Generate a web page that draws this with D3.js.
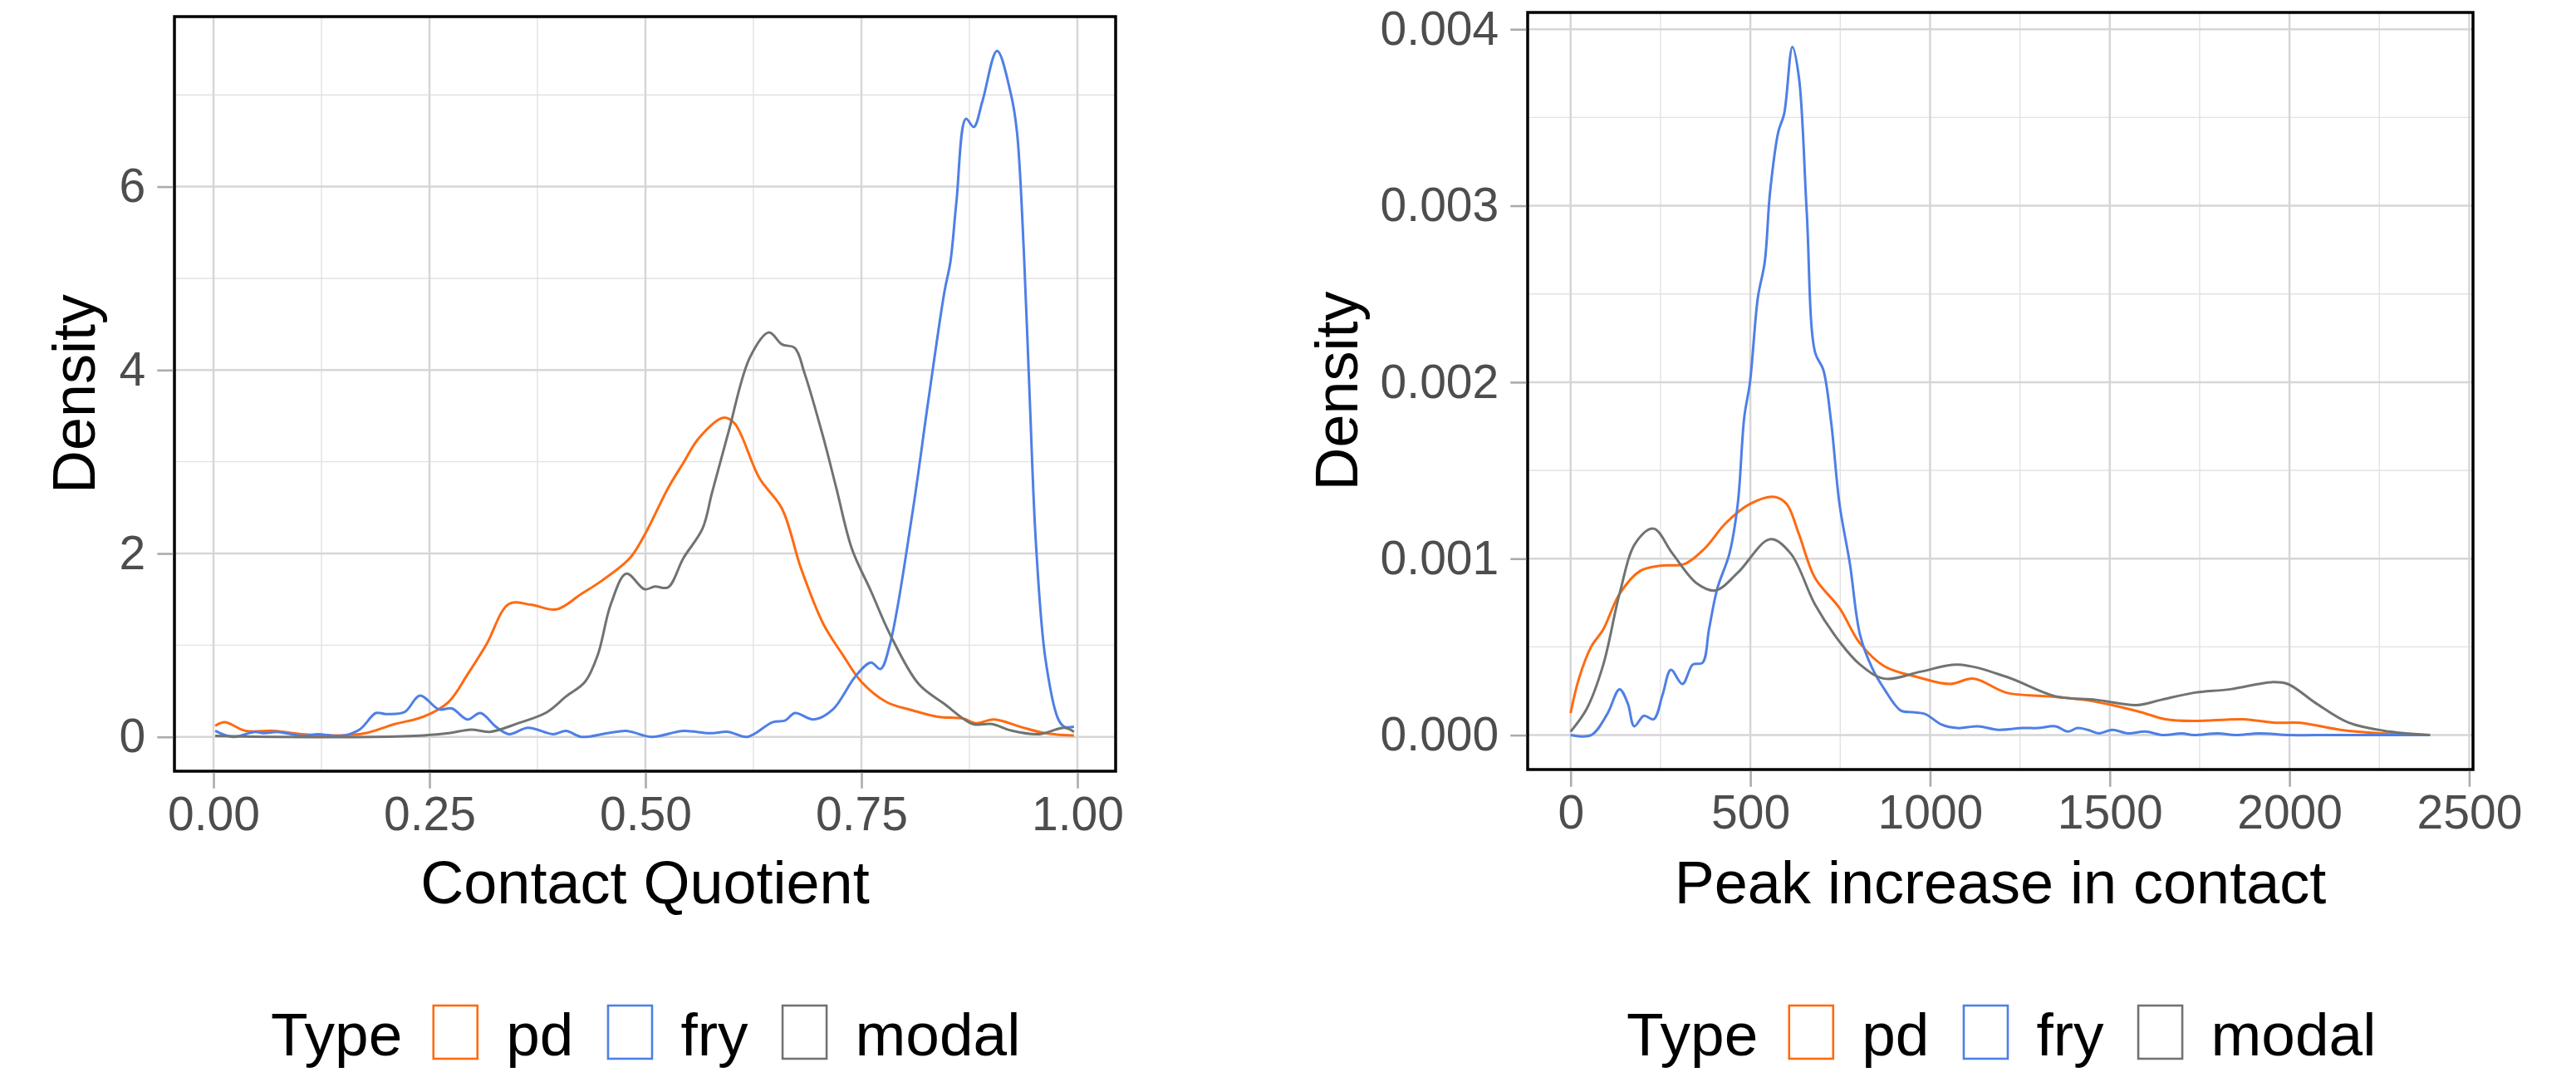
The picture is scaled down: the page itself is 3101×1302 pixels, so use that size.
<!DOCTYPE html>
<html><head><meta charset="utf-8">
<script src="https://cdn.jsdelivr.net/npm/d3@7"></script>
<style>body{margin:0;background:#fff}svg{display:block}</style>
</head><body>
<script>
// ---- DATA ----
const seriesNames = ["pd", "fry", "modal"];
const legendTitle = "Type";

// Panel 1: Contact Quotient densities [x, density]
const cqPd = [[0.002,0.12],[0.013,0.16],[0.037,0.066],[0.07,0.066],[0.103,0.03],[0.147,0.016],[0.176,0.04],[0.21,0.14],[0.243,0.22],[0.272,0.38],[0.294,0.68],[0.316,1.01],[0.342,1.45],[0.368,1.44],[0.397,1.39],[0.426,1.56],[0.449,1.70],[0.482,1.95],[0.5,2.22],[0.526,2.71],[0.544,2.99],[0.562,3.26],[0.59,3.48],[0.603,3.42],[0.632,2.82],[0.658,2.49],[0.68,1.84],[0.706,1.23],[0.728,0.90],[0.75,0.60],[0.779,0.38],[0.809,0.29],[0.838,0.22],[0.868,0.20],[0.882,0.15],[0.904,0.19],[0.934,0.11],[0.963,0.04],[0.996,0.016]];
const cqFry = [[0.002,0.066],[0.022,0.0],[0.048,0.055],[0.059,0.04],[0.074,0.055],[0.103,0.01],[0.121,0.03],[0.147,0.01],[0.169,0.08],[0.188,0.26],[0.199,0.25],[0.221,0.27],[0.239,0.45],[0.261,0.30],[0.276,0.31],[0.294,0.19],[0.309,0.26],[0.327,0.11],[0.342,0.03],[0.364,0.10],[0.393,0.03],[0.408,0.066],[0.426,0.0],[0.456,0.04],[0.478,0.066],[0.507,0.0],[0.544,0.066],[0.574,0.04],[0.596,0.055],[0.618,0.0],[0.647,0.16],[0.662,0.18],[0.673,0.26],[0.695,0.19],[0.717,0.30],[0.743,0.66],[0.761,0.81],[0.772,0.74],[0.783,1.01],[0.809,2.44],[0.827,3.64],[0.846,4.85],[0.853,5.18],[0.86,5.84],[0.871,6.74],[0.88,6.65],[0.89,6.93],[0.907,7.48],[0.923,7.01],[0.93,6.60],[0.938,5.29],[0.945,3.64],[0.952,2.11],[0.963,0.85],[0.978,0.19],[0.985,0.11],[0.996,0.11]];
const cqModal = [[0.002,0.01],[0.074,0.0],[0.184,0.0],[0.243,0.016],[0.272,0.04],[0.298,0.08],[0.32,0.055],[0.353,0.15],[0.386,0.27],[0.408,0.44],[0.43,0.60],[0.445,0.90],[0.46,1.45],[0.478,1.78],[0.499,1.61],[0.511,1.64],[0.526,1.63],[0.544,1.95],[0.566,2.27],[0.577,2.66],[0.596,3.32],[0.621,4.14],[0.643,4.41],[0.658,4.28],[0.673,4.24],[0.684,3.97],[0.706,3.26],[0.721,2.71],[0.739,2.05],[0.761,1.59],[0.783,1.12],[0.816,0.58],[0.846,0.36],[0.879,0.14],[0.901,0.14],[0.923,0.07],[0.956,0.03],[0.985,0.10],[0.996,0.055]];

// Panel 2: Peak increase in contact densities [x, density]
const piFry = [[0,0.0],[57,0.0],[102,0.00012],[136,0.00026],[159,0.00018],[177,0.00005],[204,0.00011],[231,0.00009],[256,0.00023],[279,0.00037],[311,0.00029],[340,0.00040],[367,0.00041],[385,0.00060],[408,0.00083],[442,0.00103],[465,0.00131],[483,0.00180],[499,0.00200],[521,0.00248],[540,0.00268],[555,0.00308],[578,0.00342],[594,0.00352],[617,0.00390],[635,0.00373],[657,0.00296],[680,0.00217],[703,0.00207],[725,0.00177],[748,0.00131],[777,0.00097],[805,0.00057],[839,0.00038],[873,0.00026],[918,0.00014],[952,0.00013],[986,0.00012],[1032,0.00006],[1077,0.00004],[1133,0.00005],[1190,0.00003],[1258,0.00004],[1300,0.00004],[1349,0.00005],[1383,0.00002],[1410,0.00004],[1439,0.00003],[1470,0.00001],[1507,0.00003],[1550,0.00001],[1598,0.00002],[1650,0.0],[1700,0.00001],[1734,0.0],[1800,0.00001],[1850,0.0],[1915,0.00001],[2000,0],[2074,0],[2391,0]];
const piPd = [[0,0.000125],[23,0.00032],[57,0.00050],[91,0.00060],[136,0.00080],[193,0.00093],[249,0.00096],[317,0.00097],[374,0.00106],[431,0.00120],[499,0.00131],[567,0.00135],[601,0.00131],[635,0.00114],[680,0.00089],[748,0.00072],[805,0.00052],[873,0.00039],[963,0.00033],[1054,0.00029],[1122,0.00032],[1213,0.00024],[1326,0.00022],[1428,0.00020],[1507,0.00017],[1587,0.00013],[1655,0.00009],[1734,0.00008],[1870,0.00009],[1961,0.00007],[2029,0.00007],[2142,0.00003],[2255,0.00001],[2391,0]];
const piModal = [[0,0.00002],[45,0.00015],[91,0.00040],[136,0.00080],[181,0.00109],[231,0.00117],[283,0.00103],[351,0.00086],[403,0.00082],[465,0.00092],[555,0.00111],[612,0.00103],[680,0.00074],[748,0.00053],[805,0.00040],[873,0.00032],[975,0.00036],[1077,0.00040],[1213,0.00033],[1349,0.00022],[1462,0.00020],[1575,0.00017],[1643,0.00020],[1734,0.00024],[1836,0.00026],[1950,0.00030],[1995,0.00029],[2074,0.00018],[2165,0.00007],[2278,0.00002],[2391,0]];

const cqXTicks = [0, 0.25, 0.5, 0.75, 1];
const cqXLabels = ["0.00", "0.25", "0.50", "0.75", "1.00"];
const cqYTicks = [0, 2, 4, 6];
const cqYLabels = ["0", "2", "4", "6"];
const piXTicks = [0, 500, 1000, 1500, 2000, 2500];
const piXLabels = ["0", "500", "1000", "1500", "2000", "2500"];
const piYTicks = [0, 0.001, 0.002, 0.003, 0.004];
const piYLabels = ["0.000", "0.001", "0.002", "0.003", "0.004"];

const xTitles = ["Contact Quotient", "Peak increase in contact"];
const yTitle = "Density";

// ---- STYLE ----
const colors = {pd: "#ff6a10", fry: "#4f7fe6", modal: "#6f7471"};
const FONT = "'Liberation Sans', Arial, Helvetica, sans-serif";

const W = 3101, H = 1302;
const svg = d3.select("body").append("svg").attr("width", W).attr("height", H)
  .style("font-family", FONT);

function expand(lo, hi) { const d = (hi - lo) * 0.05; return [lo - d, hi + d]; }

function panel(cfg) {
  const {left, right, top, bottom, xDomain, yDomain, xTicks, xLabels, xMinor, yTicks, yLabels, yMinor, series, xTitle, titleX, legendX} = cfg;
  const x = d3.scaleLinear().domain(xDomain).range([left, right]);
  const y = d3.scaleLinear().domain(yDomain).range([bottom, top]);
  const g = svg.append("g");

  // minor grid
  g.selectAll(".xm").data(xMinor).join("line")
    .attr("x1", d => x(d)).attr("x2", d => x(d)).attr("y1", top).attr("y2", bottom)
    .attr("stroke", "#e2e2e2").attr("stroke-width", 1.4);
  g.selectAll(".ym").data(yMinor).join("line")
    .attr("y1", d => y(d)).attr("y2", d => y(d)).attr("x1", left).attr("x2", right)
    .attr("stroke", "#e2e2e2").attr("stroke-width", 1.4);
  // major grid
  g.selectAll(".xg").data(xTicks).join("line")
    .attr("x1", d => x(d)).attr("x2", d => x(d)).attr("y1", top).attr("y2", bottom)
    .attr("stroke", "#d6d6d6").attr("stroke-width", 2.5);
  g.selectAll(".yg").data(yTicks).join("line")
    .attr("y1", d => y(d)).attr("y2", d => y(d)).attr("x1", left).attr("x2", right)
    .attr("stroke", "#d6d6d6").attr("stroke-width", 2.5);

  // curves
  const line = d3.line().x(d => x(d[0])).y(d => y(d[1])).curve(d3.curveCatmullRom.alpha(0.5));
  series.forEach(s => {
    g.append("path").datum(s.data).attr("d", line)
      .attr("fill", "none").attr("stroke", colors[s.name]).attr("stroke-width", 3)
      .attr("stroke-linejoin", "round");
  });

  // border
  g.append("rect").attr("x", left).attr("y", top).attr("width", right - left).attr("height", bottom - top)
    .attr("fill", "none").attr("stroke", "#000").attr("stroke-width", 3.5);

  // axes (ticks + labels)
  const xAxis = d3.axisBottom(x).tickValues(xTicks).tickFormat((d, i) => xLabels[i])
    .tickSizeInner(19).tickSizeOuter(0).tickPadding(10);
  const ax = g.append("g").attr("transform", `translate(0,${bottom + 1.75})`).call(xAxis);
  const yAxis = d3.axisLeft(y).tickValues(yTicks).tickFormat((d, i) => yLabels[i])
    .tickSizeInner(19).tickSizeOuter(0).tickPadding(14);
  const ay = g.append("g").attr("transform", `translate(${left - 1.75},0)`).call(yAxis);
  [ax, ay].forEach(a => {
    a.select(".domain").remove();
    a.selectAll(".tick line").attr("stroke", "#ababab").attr("stroke-width", 2.6);
    a.selectAll(".tick text").attr("fill", "#4d4d4d").attr("font-size", 57).attr("font-family", FONT);
  });

  // titles
  g.append("text").attr("x", (left + right) / 2).attr("y", 1087).attr("text-anchor", "middle")
    .attr("font-size", 72).attr("fill", "#000").text(xTitle);
  g.append("text").attr("transform", `translate(${titleX},${(top + bottom) / 2}) rotate(-90)`)
    .attr("text-anchor", "middle").attr("font-size", 72).attr("fill", "#000").text(yTitle);

  // legend
  const lg = g.append("g");
  const base = 1270;
  let cx = legendX;
  const t = lg.append("text").attr("x", cx).attr("y", base).attr("font-size", 73).attr("fill", "#000").text(legendTitle);
  cx += t.node().getComputedTextLength() + 36;
  seriesNames.forEach(n => {
    lg.append("rect").attr("x", cx + 1.5).attr("y", 1210).attr("width", 53).attr("height", 64)
      .attr("fill", "#fff").attr("stroke", colors[n]).attr("stroke-width", 2.6);
    cx += 56 + 33;
    const tt = lg.append("text").attr("x", cx).attr("y", base).attr("font-size", 73).attr("fill", "#000").text(n);
    cx += tt.node().getComputedTextLength() + 40;
  });
}

panel({
  left: 210, right: 1343, top: 20, bottom: 928,
  xDomain: [(210 - 257) / 1040, (1343 - 257) / 1040],
  yDomain: expand(0, 7.48),
  xTicks: cqXTicks, xLabels: cqXLabels, xMinor: [0.125, 0.375, 0.625, 0.875],
  yTicks: cqYTicks, yLabels: cqYLabels, yMinor: [1, 3, 5, 7],
  series: [{name: "pd", data: cqPd}, {name: "fry", data: cqFry}, {name: "modal", data: cqModal}],
  xTitle: xTitles[0], titleX: 114, legendX: 326
});

panel({
  left: 1839, right: 2977, top: 15, bottom: 926,
  xDomain: expand(0, 2391),
  yDomain: expand(0, 0.0039),
  xTicks: piXTicks, xLabels: piXLabels, xMinor: [250, 750, 1250, 1750, 2250],
  yTicks: piYTicks, yLabels: piYLabels, yMinor: [0.0005, 0.0015, 0.0025, 0.0035],
  series: [{name: "pd", data: piPd}, {name: "fry", data: piFry}, {name: "modal", data: piModal}],
  xTitle: xTitles[1], titleX: 1634, legendX: 1958
});
</script>
</body></html>
